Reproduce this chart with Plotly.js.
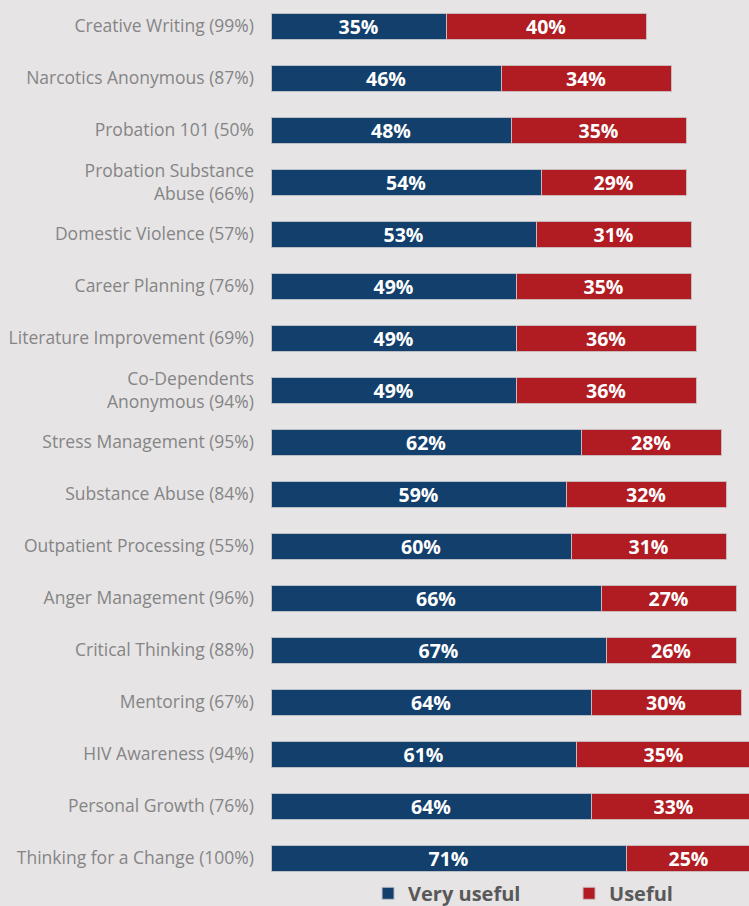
<!DOCTYPE html>
<html>
<head>
<meta charset="utf-8">
<script src="https://cdn.plot.ly/plotly-3.0.1.min.js"></script>
<style>html,body{margin:0;padding:0;background:#e6e4e5;}#chart{width:749px;height:906px;}</style>
</head>
<body>
<div id="chart"></div>
<script>
const categories = [
  "Creative Writing (99%)",
  "Narcotics Anonymous (87%)",
  "Probation 101 (50%",
  "Probation Substance<br>Abuse (66%)",
  "Domestic Violence (57%)",
  "Career Planning (76%)",
  "Literature Improvement (69%)",
  "Co-Dependents<br>Anonymous (94%)",
  "Stress Management (95%)",
  "Substance Abuse (84%)",
  "Outpatient Processing (55%)",
  "Anger Management (96%)",
  "Critical Thinking (88%)",
  "Mentoring (67%)",
  "HIV Awareness (94%)",
  "Personal Growth (76%)",
  "Thinking for a Change (100%)"
];
const veryUseful = [35, 46, 48, 54, 53, 49, 49, 49, 62, 59, 60, 66, 67, 64, 61, 64, 71];
const useful     = [40, 34, 35, 29, 31, 35, 36, 36, 28, 32, 31, 27, 26, 30, 35, 33, 25];

const pct = a => a.map(v => v + "%");
const common = {
  type: "bar", orientation: "h", y: categories,
  textposition: "inside", insidetextanchor: "middle", constraintext: "none",
  textfont: {family: "Open Sans, sans-serif", size: 19.5, color: "#ffffff", weight: 700},
  hoverinfo: "skip"
};
const traces = [
  Object.assign({}, common, {
    name: "Very useful", x: veryUseful, text: pct(veryUseful),
    marker: {color: "#133f6d", line: {color: "#b9bec6", width: 1}}
  }),
  Object.assign({}, common, {
    name: "Useful", x: useful, text: pct(useful),
    marker: {color: "#b01c22", line: {color: "#c9b9ba", width: 1}}
  })
];
const layout = {
  width: 749, height: 906,
  paper_bgcolor: "#e6e4e5", plot_bgcolor: "#e6e4e5",
  barmode: "stack", bargap: 0.5,
  margin: {l: 271, r: 0, t: 0, b: 22, autoexpand: false},
  xaxis: {range: [0, 95.6], visible: false, fixedrange: true},
  yaxis: {
    autorange: "reversed", showgrid: false, zeroline: false, showline: false,
    ticks: "", ticklabelstandoff: 16,
    tickfont: {family: "Open Sans, sans-serif", size: 17.5, color: "#858585"}
  },
  showlegend: true,
  legend: {
    orientation: "h", x: 0.203, xanchor: "left", y: -0.0105, yanchor: "middle",
    font: {family: "Open Sans, sans-serif", size: 20, color: "#595959", weight: 700},
    traceorder: "normal", itemwidth: 30, entrywidth: 156, bgcolor: "rgba(0,0,0,0)"
  }
};
Plotly.newPlot("chart", traces, layout, {displayModeBar: false, staticPlot: true});
</script>
</body>
</html>
